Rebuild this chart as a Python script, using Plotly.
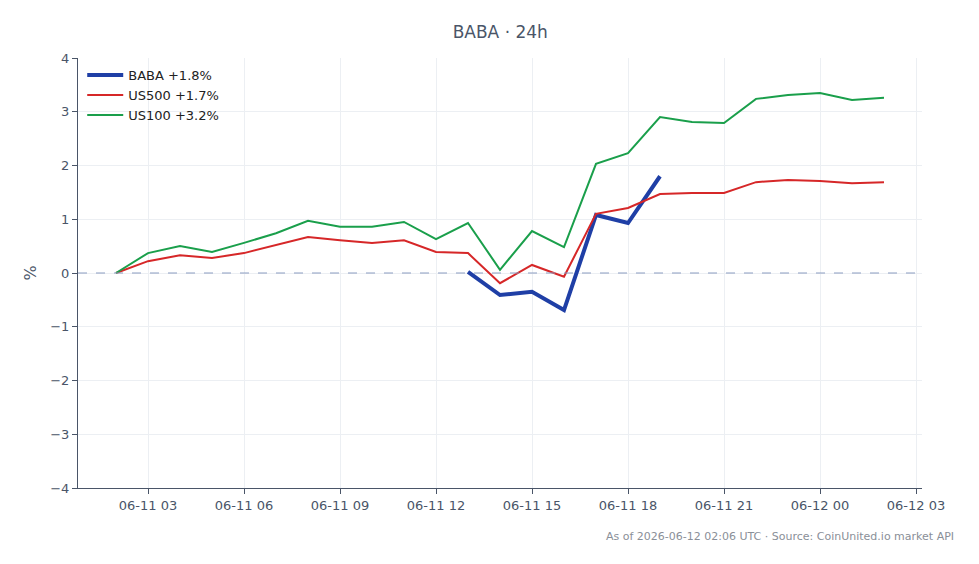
import plotly.graph_objects as go
import pandas as pd

times = pd.date_range("2026-06-11 02:00", "2026-06-12 02:00", freq="h")
us100 = [0, 0.37, 0.50, 0.39, 0.56, 0.74, 0.97, 0.86, 0.86, 0.95, 0.63, 0.93, 0.06, 0.78,
         0.48, 2.03, 2.23, 2.90, 2.81, 2.79, 3.24, 3.31, 3.35, 3.22, 3.26]
us500 = [0, 0.22, 0.33, 0.28, 0.37, 0.52, 0.67, 0.61, 0.56, 0.61, 0.39, 0.37, -0.19, 0.15,
         -0.07, 1.10, 1.21, 1.47, 1.49, 1.49, 1.69, 1.73, 1.71, 1.67, 1.69]
baba_times = pd.date_range("2026-06-11 13:00", "2026-06-11 19:00", freq="h")
baba = [0.02, -0.41, -0.35, -0.69, 1.08, 0.93, 1.80]

font = "DejaVu Sans, sans-serif"
fig = go.Figure()
fig.add_trace(go.Scatter(x=baba_times, y=baba, mode="lines", name="BABA +1.8%",
                         line=dict(color="#1f3fa6", width=4)))
fig.add_trace(go.Scatter(x=times, y=us500, mode="lines", name="US500 +1.7%",
                         line=dict(color="#d62728", width=2)))
fig.add_trace(go.Scatter(x=times, y=us100, mode="lines", name="US100 +3.2%",
                         line=dict(color="#1a9f4b", width=2)))
fig.add_hline(y=0, line=dict(color="#8a9cc0", width=1, dash="dash"))

fig.update_layout(
    width=979, height=564,
    margin=dict(l=78, r=57, t=58, b=76),
    paper_bgcolor="white", plot_bgcolor="white",
    font=dict(family=font, size=13, color="#4a5568"),
    title=dict(text="BABA · 24h", x=0.511, xanchor="center", y=0.953, yanchor="top",
               font=dict(size=17, color="#4a5568")),
    legend=dict(x=0.005, y=0.995, xanchor="left", yanchor="top", bgcolor="rgba(255,255,255,0)",
                font=dict(size=13, color="#222"), itemwidth=36, tracegroupgap=0),
    showlegend=True,
)
fig.update_xaxes(range=["2026-06-11 00:48:45", "2026-06-12 03:11:15"],
                 tickformat="%m-%d %H", dtick=3 * 3600 * 1000, tick0="2026-06-11 03:00",
                 showgrid=True, gridcolor="#eceff3", showline=True, linecolor="#4a5568",
                 ticks="outside", ticklen=5, tickcolor="#4a5568", zeroline=False)
fig.update_yaxes(range=[-4, 4], dtick=1, title=dict(text="%", standoff=9),
                 showgrid=True, gridcolor="#eceff3", showline=True, linecolor="#4a5568",
                 ticks="outside", ticklen=5, tickcolor="#4a5568", zeroline=False)
fig.add_annotation(text="As of 2026-06-12 02:06 UTC · Source: CoinUnited.io market API",
                   xref="paper", yref="paper", x=1.04, y=-0.093, xanchor="right", yanchor="top",
                   showarrow=False, font=dict(size=11, color="#8a8f98"))
fig.write_html("out.html")
